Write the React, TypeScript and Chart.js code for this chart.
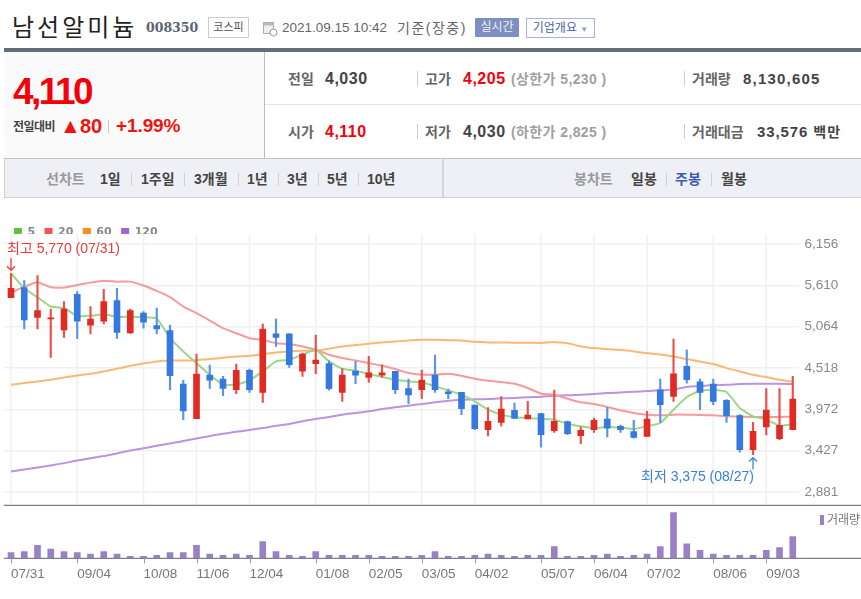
import React, { useEffect, useRef } from "react";
import { Chart, registerables } from "chart.js";

Chart.register(...registerables);

const weekLabels = ["07/31","08/07","08/14","08/21","08/28","09/04","09/11","09/18","09/25","09/29","10/08","10/16","10/23","10/30","11/06","11/13","11/20","11/27","12/04","12/11","12/18","12/24","12/30","01/08","01/15","01/22","01/29","02/05","02/10","02/19","02/26","03/05","03/12","03/19","03/26","04/02","04/09","04/16","04/23","04/30","05/07","05/14","05/21","05/28","06/04","06/11","06/18","06/25","07/02","07/09","07/16","07/23","07/30","08/06","08/13","08/20","08/27","09/03","09/10","09/15"];
const tickDates = ["07/31","09/04","10/08","11/06","12/04","01/08","02/05","03/05","04/02","05/07","06/04","07/02","08/06","09/03"];
const priceTicks = [6156, 5610, 5064, 4518, 3972, 3427, 2881];

const openPrices = [5448,5580,5185,5167,5022,5492,5084,5136,5409,4983,5242,5079,5014,4306,3849,4425,4372,4232,4486,4196,4970,4970,4478,4575,4575,4197,4478,4394,4425,4473,4245,4232,4425,4205,4197,4030,3705,3801,3960,3845,3916,3691,3810,3625,3704,3845,3748,3678,3616,4231,4144,4539,4337,4306,4091,3889,3441,3739,3586,3704];
const closePrices = [5571,5154,5277,5180,5295,5136,5163,5396,4987,5277,5123,5035,4416,3950,4438,4359,4249,4486,4232,5031,4922,4561,4702,4623,4245,4425,4425,4456,4456,4232,4162,4359,4232,4179,3981,3718,3815,3977,3854,3898,3639,3814,3652,3696,3827,3722,3704,3603,3845,4034,4442,4363,4196,4078,3889,3441,3682,3963,3761,4108];
const highPrices = [5770,5672,5738,5295,5396,5527,5330,5558,5571,5295,5264,5308,5084,4354,4702,4557,4407,4570,4504,5097,5168,4970,4715,4952,4614,4509,4605,4671,4561,4473,4372,4491,4689,4241,4197,4030,3995,4140,4056,4078,3916,4227,3818,3739,3858,3999,3766,3827,3946,4372,4899,4759,4372,4372,4100,3902,3801,4245,4245,4407];
const lowPrices = [5448,5035,5035,4658,4921,4904,4970,5101,4908,4974,5044,4970,4232,3836,3849,4249,4152,4179,4196,4065,4803,4526,4408,4443,4227,4078,4311,4328,4394,4179,4047,4113,4197,4113,3902,3705,3621,3749,3854,3845,3472,3669,3638,3520,3669,3608,3669,3590,3616,3801,4078,4319,3968,4034,3801,3406,3375,3634,3572,3704];
const ma5 = [5770,5571,5453,5330,5308,5207,5207,5229,5194,5194,5189,5172,4912,4737,4583,4429,4297,4297,4355,4473,4605,4627,4693,4759,4605,4509,4482,4438,4399,4364,4342,4329,4276,4223,4166,4078,3968,3902,3867,3858,3845,3836,3783,3748,3722,3739,3731,3713,3748,3792,3968,4135,4218,4231,4201,3990,3880,3836,3757,3779];
const ma20 = [5514,5593,5651,5585,5580,5615,5646,5672,5659,5659,5607,5536,5453,5330,5242,5145,5044,4978,4912,4890,4846,4834,4803,4759,4693,4649,4618,4583,4548,4504,4452,4430,4430,4443,4416,4377,4351,4333,4311,4254,4179,4166,4113,4065,4043,4003,3959,3924,3902,3893,3902,3902,3898,3893,3880,3876,3871,3871,3871,3876];
const ma60 = [4297,4319,4341,4363,4394,4420,4442,4473,4508,4548,4579,4605,4618,4618,4622,4636,4653,4671,4680,4702,4724,4737,4746,4746,4772,4803,4821,4838,4856,4869,4882,4891,4891,4886,4882,4864,4856,4856,4851,4851,4850,4860,4846,4803,4781,4767,4759,4737,4715,4697,4671,4636,4605,4570,4517,4473,4429,4398,4363,4337];
const ma120 = [3151,3178,3205,3232,3262,3296,3325,3356,3390,3430,3458,3490,3520,3553,3586,3620,3650,3675,3700,3725,3755,3779,3815,3845,3872,3902,3924,3946,3977,3999,4021,4043,4065,4087,4100,4104,4109,4118,4122,4131,4140,4152,4157,4166,4174,4188,4196,4205,4214,4223,4236,4267,4280,4293,4297,4306,4310,4310,4310,4306];
const volumes = [2.1,2.5,4.9,3.5,2.5,2.1,1.6,2.5,1.6,0.75,0.75,1.1,2.1,2.1,4.9,1.6,1.1,1.6,1.1,6.3,2.5,1.1,0.75,2.5,1.1,1.1,1.1,1.1,0.75,0.75,0.75,1.1,2.5,0.75,0.75,1.1,1.6,1.1,0.75,1.1,1.1,4.4,0.75,0.75,1.1,1.6,0.75,1.1,1.6,4.4,17.1,5.4,3,1.6,1.1,1.1,1.1,3,4,8.13];

const RED = "#e02b24";
const BLUE = "#3478e0";
const sans = "'Liberation Sans','Noto Sans CJK KR',sans-serif";

const isUp = closePrices.map((c, i) => c >= openPrices[i]);
const bodyColors = isUp.map((u) => (u ? RED : BLUE));
const wickColors = isUp.map((u) => (u ? "#e9524c" : "#5b92ea"));

const maLabels = ["5", "20", "60", "120"];

const overlayPlugin = {
  id: "overlay",
  beforeInit(chart: any) {
    const fit = chart.legend.fit;
    chart.legend.fit = function () {
      fit.call(this);
      this.height = 17;
    };
  },
  beforeDatasetsDraw(chart: any) {
    const { ctx, scales } = chart;
    ctx.save();
    ctx.strokeStyle = "#f0f0f0";
    ctx.lineWidth = 1.5;
    tickDates.forEach((d) => {
      const x = scales.x.getPixelForValue(weekLabels.indexOf(d));
      ctx.beginPath();
      ctx.moveTo(x, chart.chartArea.top);
      ctx.lineTo(x, 288);
      ctx.stroke();
    });
    ctx.fillStyle = "#fff";
    ctx.fillRect(0, 288, chart.width, chart.chartArea.bottom - 288);
    ctx.restore();
  },
  afterDatasetsDraw(chart: any) {
    const { ctx, scales, chartArea } = chart;
    ctx.save();
    ctx.strokeStyle = "#7c7f8c";
    ctx.lineWidth = 1.2;
    [288.3, chartArea.bottom].forEach((y) => {
      ctx.beginPath();
      ctx.moveTo(4, y);
      ctx.lineTo(chart.width, y);
      ctx.stroke();
    });
    ctx.strokeStyle = "#999";
    ctx.lineWidth = 1;
    tickDates.forEach((d) => {
      const x = Math.round(scales.x.getPixelForValue(weekLabels.indexOf(d))) + 0.5;
      ctx.beginPath();
      ctx.moveTo(x, chartArea.bottom);
      ctx.lineTo(x, chartArea.bottom + 5);
      ctx.stroke();
    });

    const hi = Math.max(...highPrices);
    const lo = Math.min(...lowPrices);
    const hiX = scales.x.getPixelForValue(highPrices.indexOf(hi));
    const loX = scales.x.getPixelForValue(lowPrices.indexOf(lo));
    const hiY = scales.y.getPixelForValue(hi);
    const loY = scales.y.getPixelForValue(lo);

    ctx.font = `14px ${sans}`;
    ctx.textBaseline = "middle";
    ctx.textAlign = "left";

    ctx.fillStyle = "#f03a3a";
    ctx.strokeStyle = "#f03a3a";
    ctx.fillText("최고 5,770 (07/31)", hiX - 4, hiY - 24);
    ctx.lineWidth = 1.3;
    ctx.beginPath();
    ctx.moveTo(hiX, hiY - 15);
    ctx.lineTo(hiX, hiY - 3);
    ctx.moveTo(hiX - 4, hiY - 7);
    ctx.lineTo(hiX, hiY - 3);
    ctx.lineTo(hiX + 4, hiY - 7);
    ctx.stroke();

    ctx.fillStyle = "#3a82dc";
    ctx.strokeStyle = "#3a82dc";
    ctx.fillText("최저 3,375 (08/27)", loX - 112, loY + 23);
    ctx.beginPath();
    ctx.moveTo(loX, loY + 15);
    ctx.lineTo(loX, loY + 3);
    ctx.moveTo(loX - 4, loY + 7);
    ctx.lineTo(loX, loY + 3);
    ctx.lineTo(loX + 4, loY + 7);
    ctx.stroke();

    ctx.fillStyle = "#9a80c6";
    ctx.fillRect(820, 298, 4, 10);
    ctx.fillStyle = "#777";
    ctx.font = `12px ${sans}`;
    ctx.fillText("거래량", 827, 303.5);
    ctx.restore();
  },
};

function T({ x, y, s = 14, w = 400, c = "#444", children, ls }: any) {
  return (
    <div
      style={{
        position: "absolute",
        left: x,
        top: y,
        transform: "translateY(-50%)",
        fontSize: s,
        fontWeight: w,
        color: c,
        whiteSpace: "nowrap",
        letterSpacing: ls,
        lineHeight: 1.2,
      }}
    >
      {children}
    </div>
  );
}

function R({ x, y, w, h, c }: any) {
  return <div style={{ position: "absolute", left: x, top: y, width: w, height: h, background: c }} />;
}

export default function App() {
  const ref = useRef<HTMLCanvasElement>(null);
  useEffect(() => {
    const chart = new Chart(ref.current!, {
      type: "bar",
      data: {
        labels: weekLabels,
        datasets: [
          { type: "line", label: "5", data: ma5, borderColor: "#98d886", backgroundColor: "#5ec043", borderWidth: 2, pointRadius: 0, tension: 0.15, order: 3 },
          { type: "line", label: "20", data: ma20, borderColor: "#f79a9a", backgroundColor: "#f25555", borderWidth: 2, pointRadius: 0, tension: 0.15, order: 3 },
          { type: "line", label: "60", data: ma60, borderColor: "#fbb873", backgroundColor: "#f98c1c", borderWidth: 2, pointRadius: 0, tension: 0.3, order: 3 },
          { type: "line", label: "120", data: ma120, borderColor: "#bd92e0", backgroundColor: "#a664d0", borderWidth: 2, pointRadius: 0, tension: 0.4, order: 3 },
          { type: "bar", label: "wick", data: lowPrices.map((l, i) => [l, highPrices[i]]), backgroundColor: wickColors, barThickness: 1.5, grouped: false, order: 2 },
          { type: "bar", label: "body", data: openPrices.map((o, i) => [o, closePrices[i]]), backgroundColor: bodyColors, barThickness: 6, grouped: false, order: 1 },
          { type: "bar", label: "거래량", data: volumes, yAxisID: "yv", backgroundColor: "#9a80c6", barThickness: 6, grouped: false, order: 1 },
        ] as any,
      },
      options: {
        responsive: false,
        animation: false,
        layout: { padding: { left: 4.375 } },
        plugins: {
          tooltip: { enabled: false },
          legend: {
            position: "top",
            align: "start",
            labels: {
              boxWidth: 8,
              boxHeight: 8,
              padding: 9.5,
              color: "#888",
              font: { family: "'DejaVu Sans'", size: 11, weight: "bold" },
              filter: (item: any) => maLabels.includes(item.text),
              generateLabels: (c: any) =>
                (Chart.defaults.plugins.legend.labels.generateLabels as any)(c).map((l: any) => ({ ...l, strokeStyle: l.fillStyle, lineWidth: 0 })),
            },
          },
        },
        scales: {
          x: {
            type: "category",
            offset: true,
            grid: { display: false },
            border: { display: false },
            afterFit: (s: any) => { s.height = 40.7; },
            ticks: {
              autoSkip: false,
              maxRotation: 0,
              align: "start",
              padding: 0,
              color: "#777",
              font: { family: sans, size: 13.5 },
              callback: (_v: any, i: number) => (tickDates.includes(weekLabels[i]) ? weekLabels[i] : null),
            },
          },
          y: {
            position: "right",
            min: 2005,
            max: 6288,
            grid: { color: "#f0f0f0", lineWidth: 1.5, drawTicks: false },
            border: { display: false },
            afterFit: (s: any) => { s.width = 61.6; },
            afterBuildTicks: (s: any) => { s.ticks = priceTicks.map((value) => ({ value })); },
            ticks: {
              padding: 5,
              color: "#888",
              font: { family: sans, size: 13.5 },
              callback: (v: any) => Number(v).toLocaleString("en-US"),
            },
          },
          yv: { display: false, position: "right", min: 0, max: 121.6, grid: { display: false } },
        },
      } as any,
      plugins: [overlayPlugin as any],
    });
    return () => chart.destroy();
  }, []);

  const navBar = [
    ["1일", 100], ["1주일", 141], ["3개월", 194], ["1년", 247], ["3년", 287], ["5년", 327], ["10년", 367],
  ] as [string, number][];
  const navSeps = [131, 184, 238, 278, 318, 358];

  return (
    <div style={{ position: "absolute", left: 0, top: 0, width: 861, height: 599, background: "#fff", overflow: "hidden", fontFamily: sans }}>
      <T x={12} y={28} s={24} c="#222" ls={3}>남선알미늄</T>
      <T x={146} y={28} s={12.5} w={700} c="#5c6470"><span style={{ fontFamily: "'DejaVu Serif'" }}>008350</span></T>
      <div style={{ position: "absolute", left: 208, top: 17, width: 39, height: 19, border: "1px solid #ccc", fontSize: 11, color: "#555", textAlign: "center", lineHeight: "19px" }}>코스피</div>
      <svg style={{ position: "absolute", left: 263, top: 21 }} width="15" height="16" viewBox="0 0 15 16">
        <rect x="0.5" y="1.5" width="10" height="11" fill="#eee" stroke="#aaa" />
        <rect x="0.5" y="1.5" width="10" height="3" fill="#bbb" />
        <circle cx="10.5" cy="11.5" r="3.5" fill="#fff" stroke="#999" />
      </svg>
      <T x={282} y={28} s={13.5} c="#666">2021.09.15 10:42</T>
      <T x={397} y={28} s={14} c="#666" ls={1.5}>기준(장중)</T>
      <div style={{ position: "absolute", left: 475, top: 18, width: 44, height: 19, background: "#7d8fbf", borderRadius: 1, color: "#eef", fontSize: 12, textAlign: "center", lineHeight: "19px" }}>실시간</div>
      <div style={{ position: "absolute", left: 526, top: 18, width: 67, height: 18, border: "1px solid #a5b3d8", color: "#4a62a8", fontSize: 12, textAlign: "center", lineHeight: "18px" }}>기업개요 <span style={{ fontSize: 8, color: "#8f9fc8" }}>▼</span></div>

      <R x={4} y={48} w={857} h={4} c="#666d7a" />
      <R x={4} y={52} w={260} h={106} c="#fafafa" />
      <R x={264} y={52} w={1} h={106} c="#bbb" />
      <R x={265} y={104} w={596} h={1} c="#e5e5e5" />
      <T x={13} y={92} s={37} w={700} c="#f4000a" ls={-2.5}>4,110</T>
      <T x={13} y={127} s={12} w={700} c="#444" ls={-0.5}>전일대비</T>
      <T x={60} y={126} s={21} c="#f0140f">▲</T>
      <T x={80} y={126} s={20} w={700} c="#f0140f" ls={-0.2}>80</T>
      <R x={108} y={120} w={1} h={13} c="#ccc" />
      <T x={116} y={126} s={19} w={700} c="#f0140f" ls={-0.1}>+1.99%</T>

      <T x={288} y={79} s={14} w={700} c="#666">전일</T>
      <T x={325} y={79} s={16} w={700} c="#444" ls={0.5}>4,030</T>
      <R x={417} y={71} w={1} h={15} c="#ccc" />
      <T x={425} y={79} s={14} w={700} c="#666">고가</T>
      <T x={463} y={79} s={16} w={700} c="#f4000a" ls={0.5}>4,205</T>
      <T x={511} y={79} s={14} w={700} c="#a0a0a0" ls={0.4}>(상한가 5,230 )</T>
      <R x={684} y={71} w={1} h={15} c="#ccc" />
      <T x={692} y={79} s={14} w={700} c="#666">거래량</T>
      <T x={743} y={79} s={15} w={700} c="#444" ls={1.2}>8,130,605</T>

      <T x={288} y={132} s={14} w={700} c="#666">시가</T>
      <T x={325} y={132} s={16} w={700} c="#f4000a" ls={0.5}>4,110</T>
      <R x={417} y={124} w={1} h={15} c="#ccc" />
      <T x={425} y={132} s={14} w={700} c="#666">저가</T>
      <T x={463} y={132} s={16} w={700} c="#444" ls={0.5}>4,030</T>
      <T x={511} y={132} s={14} w={700} c="#a0a0a0" ls={0.4}>(하한가 2,825 )</T>
      <R x={684} y={124} w={1} h={15} c="#ccc" />
      <T x={692} y={132} s={14} w={700} c="#666">거래대금</T>
      <T x={757} y={132} s={15} w={700} c="#444" ls={0.9}>33,576 <span style={{ fontSize: 14 }}>백만</span></T>

      <R x={4} y={158} w={857} h={39} c="#eff0f5" />
      <R x={4} y={158} w={857} h={1} c="#c4c4c8" />
      <R x={4} y={197} w={857} h={1} c="#d0d0d4" />
      <R x={4} y={158} w={1} h={39} c="#d0d0d4" />
      <R x={442} y={159} w={2} h={38} c="#d4d5da" />
      <T x={46} y={179} s={14} w={700} c="#999">선차트</T>
      {navBar.map(([t, x]) => (
        <T key={t} x={x} y={179} s={14} w={700} c="#444">{t}</T>
      ))}
      {navSeps.map((x) => (
        <R key={x} x={x} y={173} w={1} h={13} c="#d0d0d0" />
      ))}
      <T x={574} y={179} s={14} w={700} c="#999">봉차트</T>
      <T x={631} y={179} s={14} w={700} c="#444">일봉</T>
      <R x={666} y={173} w={1} h={13} c="#d0d0d0" />
      <T x={675} y={179} s={14} w={700} c="#3c5bb0">주봉</T>
      <R x={711} y={173} w={1} h={13} c="#d0d0d0" />
      <T x={721} y={179} s={14} w={700} c="#444">월봉</T>

      <canvas ref={ref} width={861} height={382} style={{ position: "absolute", left: 0, top: 217, width: 861, height: 382 }} />
    </div>
  );
}
